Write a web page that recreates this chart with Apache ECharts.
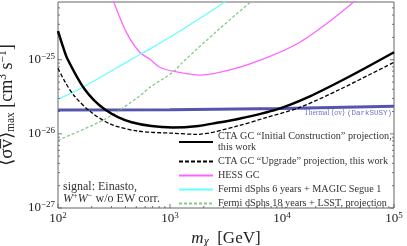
<!DOCTYPE html>
<html><head><meta charset="utf-8">
<script src="https://cdn.jsdelivr.net/npm/echarts@6/dist/echarts.min.js"></script>
<style>html,body{margin:0;padding:0;background:#fff}#c{width:407px;height:246px}</style>
</head><body><div id="c"></div>
<script>
// ---- data (mass in GeV, <sigma v> in cm^3 s^-1) ----
const massSolid  = [100, 110, 121.6, 173, 261, 454, 1057, 1800, 2700, 3950, 9000, 17740, 40400, 100000];
const sigmaSolid = [2.43e-25, 1.55e-25, 1.02e-25, 3.99e-26, 2.14e-26, 1.43e-26, 1.22e-26, 1.28e-26, 1.42e-26, 1.57e-26, 2.14e-26, 3.21e-26, 5.98e-26, 1.26e-25];

const massDashed  = [100, 115, 140, 198, 299, 514, 1057, 1738, 3950, 7330, 14460, 33000, 100000];
const sigmaDashed = [7.67e-26, 5.1e-26, 3.24e-26, 1.95e-26, 1.34e-26, 1.09e-26, 1.02e-26, 9.85e-27, 1.27e-26, 1.67e-26, 2.28e-26, 3.99e-26, 9.25e-26];

const massHess  = [300, 333, 410, 536, 658, 809, 1057, 1845, 3640, 7800, 14460, 26800, 47000];
const sigmaHess = [7.5e-25, 4.8e-25, 2.3e-25, 1.26e-25, 1.02e-25, 7.9e-26, 7.0e-26, 6.2e-26, 7.45e-26, 1.11e-25, 1.72e-25, 3.31e-25, 6.6e-25];

const massFermi6  = [100, 173, 456, 658, 1300, 3080, 3500];
const sigmaFermi6 = [2.92e-26, 4.39e-26, 1.02e-25, 1.39e-25, 2.58e-25, 6.0e-25, 7.2e-25];

const massFermi18  = [100, 261, 514, 658, 1062, 1300, 2620, 5500];
const sigmaFermi18 = [8.2e-27, 1.57e-26, 3.08e-26, 4.21e-26, 6.78e-26, 9.25e-26, 2.43e-25, 6.4e-25];

const massThermal  = [100, 1000, 10000, 100000];
const sigmaThermal = [2.1e-26, 2.12e-26, 2.2e-26, 2.35e-26];

const xTickExponents = [2, 3, 4, 5];
const yTickExponents = [-27, -26, -25];

const names = [
  'CTA GC “Initial Construction” projection,',
  'CTA GC “Upgrade” projection, this work',
  'HESS GC',
  'Fermi dSphs 6 years + MAGIC Segue 1',
  'Fermi dSphs 18 years + LSST, projection'
];

// ---- chart (axes run in decades: value = log10 of the physical quantity) ----
const X_MIN = 100, X_MAX = 1e5, Y_MIN = 1e-27, Y_MAX = 6e-25;
const L = Math.log10;
const SERIF = 'Liberation Serif';
const zip = (a, b) => a.map((v, i) => [L(v), L(b[i])]);
const sup = {fontSize: 9, fontFamily: SERIF, color: '#222', padding: [0, 0, 7, 0]};

// tick marks (major + minor) drawn through the axes' own scales
const tickData = [];
for (let k = xTickExponents[0]; k <= xTickExponents[xTickExponents.length - 1]; k++) for (let j = 1; j <= 9; j++) {
  const v = j * Math.pow(10, k);
  if (v > X_MAX * 1.0001) break;
  tickData.push([L(v), L(Y_MIN), 0, j === 1 ? 4 : 2]);
}
for (let k = yTickExponents[0]; k <= yTickExponents[yTickExponents.length - 1]; k++) for (let j = 1; j <= 9; j++) {
  const v = j * Math.pow(10, k);
  if (v >= Y_MAX * 0.9999) break;
  tickData.push([L(X_MIN), L(v), 1, j === 1 ? 4 : 2]);
  tickData.push([L(X_MAX), L(v), 2, j === 1 ? 4 : 2]);
}

function tickItem(params, api) {
  const kind = api.value(2), len = api.value(3);
  const p = api.coord([api.value(0), api.value(1)]);
  let x2 = p[0], y2 = p[1];
  if (kind === 0) y2 -= len; else if (kind === 1) x2 += len; else x2 -= len;
  return {type: 'line', shape: {x1: p[0], y1: p[1], x2: x2, y2: y2},
          style: {stroke: '#555', lineWidth: 0.8}};
}
const isInt = v => Math.abs(v - Math.round(v)) < 1e-6;

const chart = echarts.init(document.getElementById('c'), null, {renderer: 'canvas'});
const lineBase = {type: 'line', symbol: 'none', showSymbol: false, smooth: 0.3, clip: true, animation: false};

chart.setOption({
  animation: false,
  backgroundColor: '#fff',
  grid: {left: 58, right: 13, top: 2, bottom: 38, show: true, borderColor: '#666', borderWidth: 1,
         containLabel: false, outerBoundsMode: 'none'},
  xAxis: {
    type: 'value', min: L(X_MIN), max: L(X_MAX), interval: 1,
    axisLine: {show: false}, axisTick: {show: false}, splitLine: {show: false},
    axisLabel: {
      margin: 3, color: '#222', fontFamily: SERIF, fontSize: 13,
      formatter: v => isInt(v) ? '{b|10}{s|' + Math.round(v) + '}' : '',
      rich: {b: {fontSize: 13, fontFamily: SERIF, color: '#222'}, s: sup}
    },
    name: '{i|m}{sub|χ}  [GeV]', nameLocation: 'middle', nameGap: 20,
    nameTextStyle: {fontFamily: SERIF, fontSize: 17, color: '#222',
      rich: {i: {fontStyle: 'italic', fontSize: 17, fontFamily: SERIF, color: '#222'},
             sub: {fontStyle: 'italic', fontSize: 11.5, fontFamily: SERIF, color: '#222', padding: [6, 0, 0, 0]}}}
  },
  yAxis: {
    type: 'value', min: -27, max: L(Y_MAX), interval: 1,
    axisLine: {show: false}, axisTick: {show: false}, splitLine: {show: false},
    axisLabel: {
      margin: 3, color: '#222', fontFamily: SERIF, fontSize: 13,
      formatter: v => isInt(v) ? '{b|10}{s|−' + Math.abs(Math.round(v)) + '}' : '',
      rich: {b: {fontSize: 13, fontFamily: SERIF, color: '#222'}, s: sup}
    },
    name: '{o|⟨̅σ̅v̅⟩̅}{sub|max} [cm{sup|3} s{sup|−1}]', nameLocation: 'middle', nameGap: 33, nameRotate: 90,
    nameTextStyle: {fontFamily: SERIF, fontSize: 18, color: '#222',
      rich: {o: {fontSize: 19, fontFamily: SERIF, color: '#222'},
             sub: {fontSize: 11.5, fontFamily: SERIF, color: '#222', padding: [8, 0, 0, 0]},
             sup: {fontSize: 11.5, fontFamily: SERIF, color: '#222', padding: [0, 0, 8, 0]}}}
  },
  legend: {
    data: names, orient: 'vertical', left: 178, top: 131, padding: 0,
    itemWidth: 34, itemHeight: 10, itemGap: 3, selectedMode: false,
    itemStyle: {opacity: 0},
    textStyle: {fontFamily: SERIF, fontSize: 10.2, color: '#333', lineHeight: 11},
    formatter: n => n === names[0] ? n + '\nthis work' : n
  },
  graphic: [
    {type: 'text', left: 63, top: 181, z: 10,
     style: {text: 'signal: Einasto,\n{i|W}{s|+}{i|W}{s|−} w/o EW corr.', fontFamily: SERIF, fontSize: 12, fill: '#333', lineHeight: 12,
       rich: {i: {fontStyle: 'italic', fontFamily: SERIF, fontSize: 12, fill: '#333'},
              s: {fontFamily: SERIF, fontSize: 8.5, fill: '#333', padding: [0, 0, 6, 0]}}}},
    {type: 'text', right: 15, top: 109, z: 10,
     style: {text: 'Thermal ⟨σv⟩ {m|(DarkSUSY)}', fontFamily: SERIF, fontSize: 7.5, fill: '#7070c8',
       rich: {m: {fontFamily: 'Liberation Mono', fontSize: 7.5, fill: '#7070c8'}}}}
  ],
  series: [
    Object.assign({}, lineBase, {name: 'thermal', data: zip(massThermal, sigmaThermal), smooth: false,
      lineStyle: {color: '#5555ad', width: 3}, itemStyle: {color: '#5555ad'}, z: 2}),
    Object.assign({}, lineBase, {name: names[2], data: zip(massHess, sigmaHess),
      lineStyle: {color: '#ff66ff', width: 1.3}, itemStyle: {color: '#ff66ff'}, z: 3}),
    Object.assign({}, lineBase, {name: names[3], data: zip(massFermi6, sigmaFermi6),
      lineStyle: {color: '#66ffff', width: 1.3}, itemStyle: {color: '#66ffff'}, z: 3}),
    Object.assign({}, lineBase, {name: names[4], data: zip(massFermi18, sigmaFermi18),
      lineStyle: {color: '#88c888', width: 1.3, type: [3, 2]}, itemStyle: {color: '#88c888'}, z: 3}),
    Object.assign({}, lineBase, {name: names[1], data: zip(massDashed, sigmaDashed),
      lineStyle: {color: '#000', width: 1.3, type: [4, 2]}, itemStyle: {color: '#000'}, z: 4}),
    Object.assign({}, lineBase, {name: names[0], data: zip(massSolid, sigmaSolid),
      lineStyle: {color: '#000', width: 2.5}, itemStyle: {color: '#000'}, z: 5}),
    {type: 'custom', name: 'ticks', data: tickData, renderItem: tickItem, clip: false, silent: true, z: 6,
     animation: false}
  ]
});
</script>
</body></html>
